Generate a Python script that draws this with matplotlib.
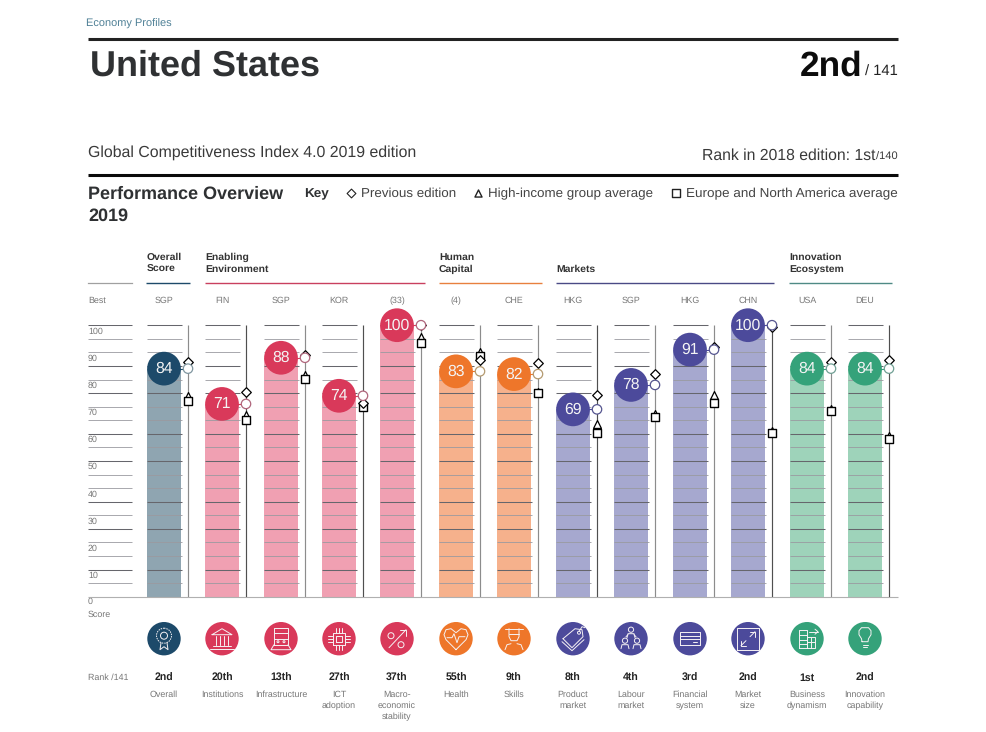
import numpy as np
import matplotlib
matplotlib.use("Agg")
import matplotlib.pyplot as plt
from matplotlib.patches import Circle

plt.rcParams['font.family'] = ['Liberation Sans', 'DejaVu Sans']
plt.rcParams['text.hinting'] = 'no_hinting'
plt.rcParams['text.hinting_factor'] = 8

# ---- data ----
pillars = ["Overall", "Institutions", "Infrastructure", "ICT\nadoption", "Macro-\neconomic\nstability",
           "Health", "Skills", "Product\nmarket", "Labour\nmarket", "Financial\nsystem", "Market\nsize",
           "Business\ndynamism", "Innovation\ncapability"]
best = ["SGP", "FIN", "SGP", "KOR", "(33)", "(4)", "CHE", "HKG", "SGP", "HKG", "CHN", "USA", "DEU"]
ranks = ["2nd", "20th", "13th", "27th", "37th", "55th", "9th", "8th", "4th", "3rd", "2nd", "1st", "2nd"]
scores = [84, 71, 88, 74, 100, 83, 82, 69, 78, 91, 100, 84, 84]
previous = [86.5, 75.5, 89, 71.3, 100, 87.3, 86.2, 74.2, 82.2, 92, 99.5, 86.3, 87.3]
high_income = [73.8, 66.8, 81.5, 71, 95.8, 90, 75.5, 63.5, 67.2, 74.2, 61, 69.2, 59.2]
europe_na = [72, 65.2, 80.3, 70, 93.5, 88.8, 75, 60.4, 66.2, 71.4, 60.4, 68.3, 58.2]
groups = ["overall", "enabling", "enabling", "enabling", "enabling", "human", "human",
          "markets", "markets", "markets", "markets", "innovation", "innovation"]
y_ticks = list(range(5, 105, 5))
strong_ticks = [100, 85, 75, 60, 50, 35, 25, 10]
y_labels = [100, 90, 80, 70, 60, 50, 40, 30, 20, 10]

# ---- styles ----
DARK = {"overall": "#1d4a6a", "enabling": "#d9395a", "human": "#ee762a", "markets": "#4c4a9b", "innovation": "#35a27a"}
LIGHT = {"overall": "#8fa5b1", "enabling": "#f0a0b2", "human": "#f6b18c", "markets": "#a6a8cf", "innovation": "#9ed3ba"}
RING = {"overall": "#7f959f", "enabling": "#b0667c", "human": "#b49a70", "markets": "#55558f", "innovation": "#6f9f93"}
COL_LEFT = [147, 205, 264, 322, 380, 439, 497, 556, 614, 673, 731, 790, 848]
BAR_W = 34
LINE_OFF = 41
Y0, PX_PER = 596.7, 2.715
TXT = "#333333"
GREY = "#777777"

fig = plt.figure(figsize=(9.86, 7.32), dpi=100, facecolor="white")
deco = fig.add_axes([0, 0, 1, 1])
deco.set_xlim(0, 986); deco.set_ylim(732, 0); deco.axis("off")
ax = fig.add_axes([0, (732 - Y0) / 732, 1, 100 * PX_PER / 732])
ax.set_xlim(0, 986); ax.set_ylim(0, 100); ax.axis("off"); ax.patch.set_alpha(0)

bar_x = np.array(COL_LEFT) + BAR_W / 2
line_x = np.array(COL_LEFT) + LINE_OFF

# bars
ax.bar(bar_x, scores, width=BAR_W, color=[LIGHT[g] for g in groups], zorder=1, clip_on=False)

# ruled lines
for v in y_ticks:
    strong = v in strong_ticks
    col, lw = ("#66666c", 0.75) if strong else ("#9a9aa0", 0.6)
    ax.hlines(v, 88, 132, color=col, lw=lw, zorder=2)
    ax.hlines([v] * 13, np.array(COL_LEFT) - 0.5, np.array(COL_LEFT) + BAR_W + 0.5, color=col, lw=lw, zorder=2, clip_on=False)
ax.hlines(0, 88, 898, color="#b0b0b0", lw=0.8, zorder=2, clip_on=False)

# comparison rails
for i, x in enumerate(line_x):
    ax.vlines(x, 0, 100, color="#4f4f4f" if i in (1, 3, 7, 10, 12) else "#8c8c8c", lw=0.85, zorder=2)

# connectors
for x, b, s, g in zip(line_x, bar_x, scores, groups):
    ax.hlines(s, b, x, color=DARK[g], lw=0.8, zorder=3, clip_on=False)

# markers
ax.scatter(line_x, high_income, marker="^", s=32, facecolor="white", edgecolor="black", lw=0.9, zorder=4, clip_on=False)
ax.scatter(line_x, europe_na, marker="s", s=27, facecolor="white", edgecolor="black", lw=1.0, zorder=5, clip_on=False)
ax.scatter(line_x, previous, marker="D", s=24, facecolor="white", edgecolor="black", lw=0.9, zorder=6, clip_on=False)
ax.scatter(line_x, scores, marker="o", s=46, facecolor="white", edgecolor=[RING[g] for g in groups], lw=0.9, zorder=7, clip_on=False)
ax.scatter(bar_x, scores, marker="o", s=590, color=[DARK[g] for g in groups], lw=0, zorder=8, clip_on=False)
for x, s in zip(bar_x, scores):
    ax.text(x, s - 0.1, str(s), color="#f4f4f4", fontsize=11.3, ha="center", va="center", zorder=9, clip_on=False)

# page text
def T(x, y, s, size, color=TXT, weight="normal", ha="left", va="baseline"):
    return deco.text(x, y, s, fontsize=size, color=color, fontweight=weight, ha=ha, va=va)

T(86, 27, "Economy Profiles", 7.9, "#4f8096")
deco.plot([88, 898], [38.5, 38.5], color="#222222", lw=2.2, solid_capstyle="butt")
T(90, 76, "United States", 25.9, "#2f3133", "bold")
T(862, 76, "2nd", 25.4, "#0c0c0c", "bold", ha="right")
T(898, 76, "/ 141", 10.6, "#222222", ha="right")
T(88, 157, "Global Competitiveness Index 4.0 2019 edition", 11.4, "#3a3a3a")
T(875, 160, "Rank in 2018 edition: 1st", 11.35, "#3a3a3a", ha="right")
T(898, 160, "/140", 8, "#3a3a3a", ha="right")
deco.plot([88, 898], [174.5, 174.5], color="#0a0a0a", lw=2.2, solid_capstyle="butt")
T(88, 199, "Performance Overview", 13, "#2f3133", "bold")
T(88, 221, "2019", 13, "#2f3133", "bold")
T(304, 197, "Key", 9.7, "#2f3133", "bold")
T(361, 197, "Previous edition", 9.6, "#444444")
T(488, 197, "High-income group average", 9.65, "#444444")
T(686, 197, "Europe and North America average", 9.7, "#444444")
deco.scatter([351], [192.5], marker="D", s=20, facecolor="white", edgecolor="#222222", lw=0.8)
deco.scatter([478], [193], marker="^", s=26, facecolor="white", edgecolor="#222222", lw=1.0)
deco.scatter([676], [193], marker="s", s=34, facecolor="white", edgecolor="#222222", lw=1.0)

# group headers
headers = [(147, 146, 190, "Overall\nScore", "#1d4a6a"), (205, 205, 425, "Enabling\nEnvironment", "#c9405f"),
           (439, 439, 542, "Human\nCapital", "#e8803f"), (556, 556, 774, "Markets", "#4a4a85"),
           (789, 789, 892, "Innovation\nEcosystem", "#4f8a85")]
for tx, x0, x1, label, col in headers:
    lines = label.split("\n")
    for k, ln in enumerate(lines[::-1]):
        T(tx, 272 - 12 * k, ln, 7.5, "#333333", "bold")
    deco.plot([x0, x1], [283.3, 283.3], color=col, lw=1.0, solid_capstyle="butt")
deco.plot([88, 132], [283.3, 283.3], color="#a0a0a0", lw=0.9)

# axis labels
T(88, 301, "Best", 6.4, GREY, va="center")
for v in y_labels:
    T(88, Y0 - v * PX_PER + 6, str(v), 6.4, GREY, va="center")
T(88, 602, "0", 6.4, GREY, va="center")
T(88, 615, "Score", 6.4, GREY, va="center")
T(88, 678, "Rank /141", 6.4, GREY, va="center")

for x, b, r, p in zip(bar_x, best, ranks, pillars):
    T(x, 301, b, 6.4, GREY, ha="center", va="center")
    T(x, 678, r, 7.6, "#222222", "bold", ha="center", va="center")
    for k, ln in enumerate(p.split("\n")):
        T(x, 695 + 11 * k, ln, 6.4, GREY, ha="center", va="center")

# ---- icons ----
IC = "#f6f2f4"
LW = 0.7
def icon_tools(cx, cy):
    def L(pts, close=False):
        xs = [cx + p[0] for p in pts]; ys = [cy - p[1] for p in pts]
        if close:
            xs.append(xs[0]); ys.append(ys[0])
        deco.plot(xs, ys, color=IC, lw=LW, zorder=12, solid_joinstyle="round", solid_capstyle="round")
    def C(x, y, r, ls="-"):
        deco.add_patch(Circle((cx + x, cy - y), r, fill=False, ec=IC, lw=LW, ls=ls, zorder=12))
    def R(x0, y0, x1, y1):
        L([(x0, y0), (x1, y0), (x1, y1), (x0, y1)], True)
    return L, C, R

def draw_icon(i, cx, cy):
    L, C, R = icon_tools(cx, cy)
    if i == 0:
        C(0, 3, 7.5, (0, (1.5, 1))); C(0, 3, 3.5)
        L([(-3, -4), (-4, -11), (0, -8), (4, -11), (3, -4)])
    elif i == 1:
        L([(-10, 4), (0, 10), (10, 4)], True)
        for x in (-6, -2, 2, 6):
            L([(x, 3), (x, -6)])
        L([(-9, -7), (9, -7)]); L([(-12, -10), (12, -10)])
    elif i == 2:
        R(-7, -6, 7, 11); L([(-7, 6), (7, 6)]); L([(-7, 0), (7, 0)])
        C(-3, -3, 1); C(3, -3, 1)
        L([(-7, -6), (-10, -11), (10, -11), (7, -6)])
    elif i == 3:
        R(-6, -6, 6, 6); R(-3, -3, 3, 3)
        for v in (-3, 0, 3):
            L([(v, 6), (v, 11)]); L([(v, -6), (v, -11)]); L([(6, v), (11, v)]); L([(-6, v), (-11, v)])
    elif i == 4:
        C(-6, 3, 3); C(4, -6, 3)
        L([(-8, -9), (9, 9)]); L([(3, 9), (9, 9), (9, 3)])
    elif i == 5:
        L([(0, -11), (-10, -1), (-12, 4), (-10, 9), (-5, 10), (0, 6), (5, 10), (10, 9), (12, 4), (10, -1)], True)
        L([(-9, 1), (-4, 1), (-2, 5), (1, -4), (3, 2), (9, 2)])
    elif i == 6:
        L([(-9, 10), (9, 10)]); L([(-5, 10), (-5, 2), (-3, -2), (3, -2), (5, 2), (5, 10)])
        L([(-5, 5), (5, 5)])
        L([(-9, -11), (-7, -6), (-3, -5)]); L([(9, -11), (7, -6), (3, -5)])
    elif i == 7:
        L([(-10, 0), (2, 10), (9, 9), (10, 2), (-1, -9)], True)
        L([(-11, -3), (-1, -12), (11, -1)])
        C(6, 6, 1.5); L([(6, 7), (9, 12), (12, 11)])
    elif i == 8:
        for x, y in ((0, 9), (-6, -2), (6, -2)):
            C(x, y, 2.6)
            L([(x - 4, y - 8), (x - 3, y - 4), (x + 3, y - 4), (x + 4, y - 8)])
        L([(-3, 4), (-5, 2)]); L([(3, 4), (5, 2)])
    elif i == 9:
        R(-10, -6, 10, 7); L([(-10, 3), (10, 3)]); L([(-10, 0), (10, 0)]); L([(3, -3), (7, -3)])
    elif i == 10:
        R(-11, -11, 11, 11)
        L([(-7, -7), (-2, -2)]); L([(2, 2), (7, 7)])
        L([(2, 7), (7, 7), (7, 2)]); L([(-7, -2), (-7, -7), (-2, -7)])
    elif i == 11:
        R(-8, -9, 0, 9); R(0, -9, 8, 2)
        L([(-8, 4), (0, 4)]); L([(-8, -1), (0, -1)]); L([(-8, -5), (0, -5)])
        L([(0, -3), (8, -3)]); L([(4, -9), (4, 2)])
        L([(2, 7), (11, 7)]); L([(8, 9.5), (11, 7), (8, 4.5)])
    elif i == 12:
        L([(-3, -3), (-3.5, 0), (-6, 4), (-6, 8), (-3.5, 11), (3.5, 11), (6, 8), (6, 4), (3.5, 0), (3, -3)], True)
        L([(-2.5, -6), (2.5, -6)]); L([(-2, -8.5), (2, -8.5)])

for i, (x, g) in enumerate(zip(bar_x, groups)):
    deco.add_patch(Circle((x, 638.7), 16.7, fc=DARK[g], ec="none", zorder=11))
    draw_icon(i, x, 638.7)

fig.savefig("out.png", dpi=100, facecolor="white")
